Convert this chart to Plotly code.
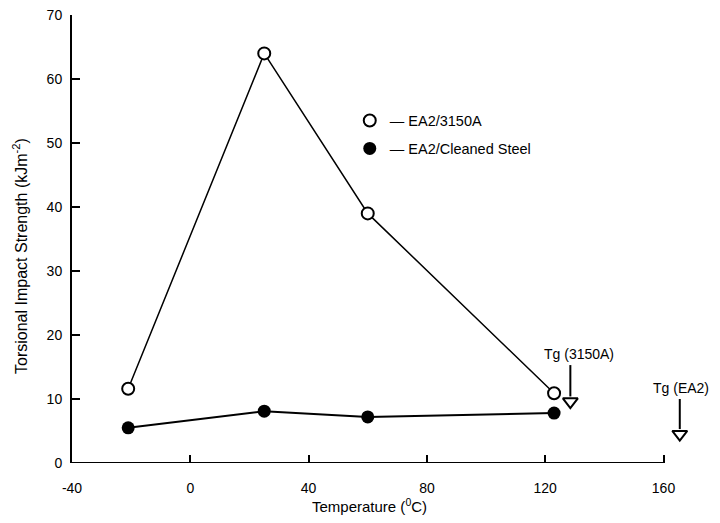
import plotly.graph_objects as go

temps = [-21, 25, 60, 123]
ea2_3150a = [11.6, 64.0, 39.0, 10.9]
ea2_steel = [5.5, 8.1, 7.2, 7.8]

tg_labels = ["Tg (3150A)", "Tg (EA2)"]
tg_x = [128.5, 165.5]
tg_top = [15.3, 10.0]
tg_head = [9.6, 4.5]

x_ticks = [-40, 0, 40, 80, 120, 160]
y_ticks = [0, 10, 20, 30, 40, 50, 60, 70]

x_title = "Temperature (<sup>0</sup>C)"
y_title = "Torsional Impact Strength (kJm<sup>-2</sup>)"

FONT = "Liberation Sans, Arial, sans-serif"

fig = go.Figure()

fig.add_trace(go.Scatter(
    x=temps, y=ea2_3150a, mode="lines+markers", showlegend=False,
    line=dict(color="black", width=1.5),
    marker=dict(symbol="circle", size=12, color="white", line=dict(color="black", width=2)),
    cliponaxis=False))
fig.add_trace(go.Scatter(
    x=temps, y=ea2_steel, mode="lines+markers", showlegend=False,
    line=dict(color="black", width=2),
    marker=dict(symbol="circle", size=13, color="black"),
    cliponaxis=False))

# legend entries
fig.add_trace(go.Scatter(
    x=[None], y=[None], mode="markers", name="\u2014 EA2/3150A", legendgroup="a",
    marker=dict(symbol="circle", size=12, color="white", line=dict(color="black", width=2))))
fig.add_trace(go.Scatter(
    x=[None], y=[None], mode="markers", name="\u2014 EA2/Cleaned Steel", legendgroup="b",
    marker=dict(symbol="circle", size=13, color="black")))

# Tg arrows
label_dx = [3.0, 0.5]
for lab, xv, yt, yh, dx in zip(tg_labels, tg_x, tg_top, tg_head, label_dx):
    fig.add_trace(go.Scatter(
        x=[xv, xv], y=[yt, yh + 0.8], mode="lines", showlegend=False,
        line=dict(color="black", width=2), cliponaxis=False))
    fig.add_trace(go.Scatter(
        x=[xv], y=[yh], mode="markers", showlegend=False,
        marker=dict(symbol="triangle-down-open", size=13, color="black",
                    line=dict(width=2)),
        cliponaxis=False))
    fig.add_annotation(x=xv + dx, y=yt + 1.7, text=lab, showarrow=False,
                       font=dict(family=FONT, size=14, color="black"),
                       xanchor="center", yanchor="middle")

# axis titles
fig.add_annotation(xref="paper", yref="paper", x=0.475, y=-0.094, text=x_title,
                   showarrow=False, xanchor="center", yanchor="middle",
                   font=dict(family=FONT, size=15, color="black"))
fig.add_annotation(xref="paper", yref="paper", x=-0.083, y=0.462, text=y_title,
                   showarrow=False, xanchor="center", yanchor="middle", textangle=-90,
                   font=dict(family=FONT, size=16, color="black"))

# x-axis baseline from -40 to 160
fig.add_shape(type="line", xref="x", yref="y", x0=x_ticks[0], x1=x_ticks[-1], y0=0, y1=0,
              line=dict(color="black", width=2))

fig.update_layout(
    width=712, height=507,
    margin=dict(l=64, r=20.5, t=7, b=52),
    plot_bgcolor="white", paper_bgcolor="white",
    font=dict(family=FONT, size=14, color="black"),
    legend=dict(x=0.443, y=0.80, xanchor="left", yanchor="top",
                bgcolor="rgba(0,0,0,0)", itemwidth=30,
                tracegroupgap=6, traceorder="grouped",
                font=dict(family=FONT, size=14.5, color="black")),
    xaxis=dict(range=[-40, 172], tickvals=x_ticks, ticktext=[str(v) for v in x_ticks],
               ticks="inside", ticklen=8, tickwidth=1.5, tickcolor="black",
               showline=False, automargin=False, ticklabeloverflow="allow",
               showgrid=False, zeroline=False, ticklabelstandoff=15,
               tickfont=dict(family=FONT, size=14)),
    yaxis=dict(range=[0, 70], tickvals=y_ticks,
               ticks="inside", ticklen=8, tickwidth=1.5, tickcolor="black",
               showline=True, linecolor="black", linewidth=2, automargin=False,
               ticklabeloverflow="allow",
               showgrid=False, zeroline=False, ticklabelstandoff=5,
               tickfont=dict(family=FONT, size=14)),
)

fig.write_html("out.html")
